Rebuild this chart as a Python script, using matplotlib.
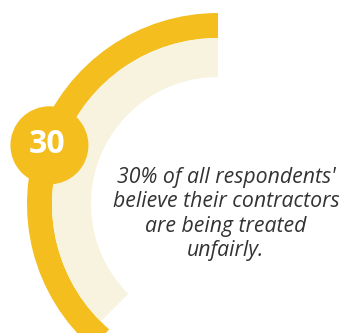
import matplotlib.pyplot as plt
from matplotlib.patches import Wedge, Circle
import numpy as np

# gauge data
value = 30
value_label = "30"
caption_lines = ["30% of all respondents'",
                 "believe their contractors",
                 "are being treated",
                 "unfairly."]

yellow = "#F4BE1E"
cream = "#F7F3DF"
text_grey = "#333333"

fig = plt.figure(figsize=(3.4, 3.33), dpi=100)
ax = fig.add_axes([0, 0, 1, 1])
ax.set_xlim(0, 340)
ax.set_ylim(0, 333)
ax.set_aspect('equal')
ax.axis('off')

cx, cy = 218, 129
r_out, band = 191, 25
r_inner_band = 39

# outer yellow band and inner cream band, both starting straight up
ax.add_patch(Wedge((cx, cy), r_out, 90, 229, width=band, color=yellow, lw=0))
ax.add_patch(Wedge((cx, cy), r_out - band, 90, 225, width=r_inner_band, color=cream, lw=0))

# value marker sitting on the yellow band
span = 236
ang = np.deg2rad(90 + value / 100 * span)
r_mid = r_out - band / 2
mx, my = cx + r_mid * np.cos(ang), cy + r_mid * np.sin(ang)
ax.add_patch(Circle((mx, my), 39, color=yellow, lw=0))
ax.text(mx - 2, my + 1, value_label, color='white', fontsize=23,
        fontweight='bold', family='Open Sans', ha='center', va='center')

ax.text(226, 119, "\n".join(caption_lines), color=text_grey, fontsize=15.3,
        style='italic', family='Open Sans',
        ha='center', va='center', multialignment='center', linespacing=1.22)

fig.savefig('out.png', dpi=100)
